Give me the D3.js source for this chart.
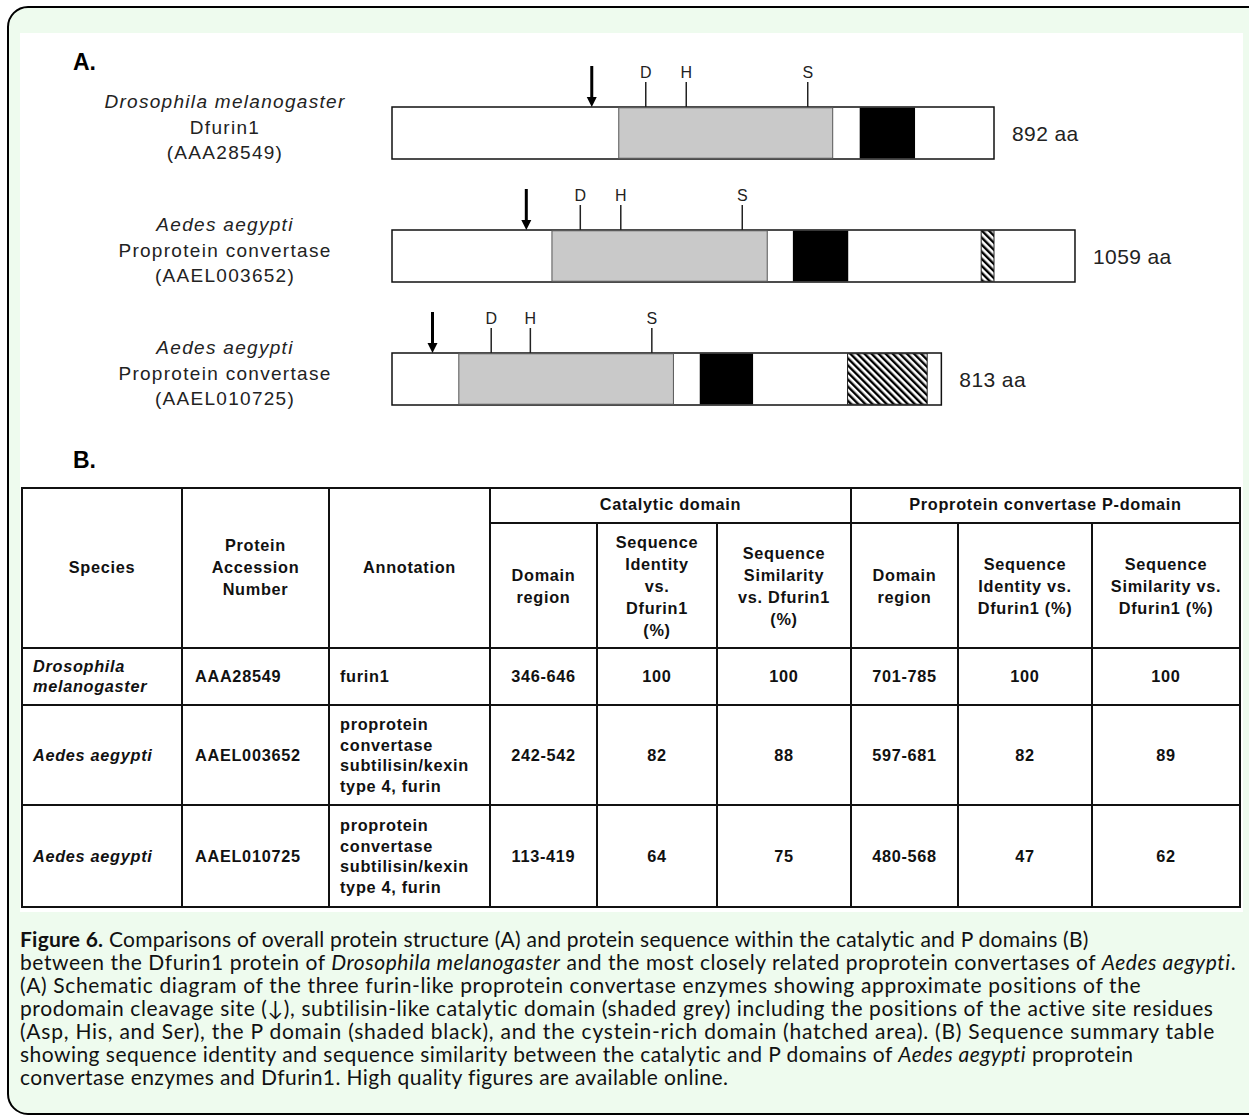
<!DOCTYPE html>
<html>
<head>
<meta charset="utf-8">
<script src="https://cdn.jsdelivr.net/npm/d3@7"></script>
<style>
  html, body { margin: 0; padding: 0; background: #ffffff; }
  svg { display: block; }
</style>
</head>
<body>
<div id="chart"></div>
<script>
// ---------- Panel A data (positions in amino acids) ----------
const rowKeys        = ["dm", "aa1", "aa2"];
const speciesNames   = ["Drosophila melanogaster", "Aedes aegypti", "Aedes aegypti"];
const proteinNames   = ["Dfurin1", "Proprotein convertase", "Proprotein convertase"];
const accessionLabels= ["(AAA28549)", "(AAEL003652)", "(AAEL010725)"];
const lengthLabels   = ["892 aa", "1059 aa", "813 aa"];
const drawnLengths   = [892, 1012, 814];
const catalyticStart = [336, 237, 99];
const catalyticEnd   = [653, 556, 417];
const pDomainStart   = [693, 594, 456];
const pDomainEnd     = [775, 676, 535];
const cysRichStart   = [null, 873, 675];
const cysRichEnd     = [null, 892, 793];
const cleavageSite   = [296, 199, 60];
const siteD          = [376, 279, 147];
const siteH          = [436, 339, 205];
const siteS          = [616, 519, 385];

// ---------- Panel B table data ----------
const tableSpecies    = [["Drosophila", "melanogaster"], ["Aedes aegypti"], ["Aedes aegypti"]];
const tableAccession  = ["AAA28549", "AAEL003652", "AAEL010725"];
const tableAnnotation = [["furin1"], ["proprotein", "convertase", "subtilisin/kexin", "type 4, furin"], ["proprotein", "convertase", "subtilisin/kexin", "type 4, furin"]];
const catRegion       = ["346-646", "242-542", "113-419"];
const catIdentity     = ["100", "82", "64"];
const catSimilarity   = ["100", "88", "75"];
const pRegion         = ["701-785", "597-681", "480-568"];
const pIdentity       = ["100", "82", "47"];
const pSimilarity     = ["100", "89", "62"];
const headerMain      = [["Species"], ["Protein", "Accession", "Number"], ["Annotation"]];
const groupHeaders    = ["Catalytic domain", "Proprotein convertase P-domain"];
const subHeaders      = [["Domain", "region"], ["Sequence", "Identity", "vs.", "Dfurin1", "(%)"], ["Sequence", "Similarity", "vs. Dfurin1", "(%)"],
                         ["Domain", "region"], ["Sequence", "Identity vs.", "Dfurin1 (%)"], ["Sequence", "Similarity vs.", "Dfurin1 (%)"]];

// ---------- Caption ----------
const captionLines = [
  [["Figure 6.", "b"], [" Comparisons of overall protein structure (A) and protein sequence within the catalytic and P domains (B)", ""]],
  [["between the Dfurin1 protein of ", ""], ["Drosophila melanogaster", "i"], [" and the most closely related proprotein convertases of ", ""], ["Aedes aegypti", "i"], [".", ""]],
  [["(A) Schematic diagram of the three furin-like proprotein convertase enzymes showing approximate positions of the", ""]],
  [["prodomain cleavage site (\u2193), subtilisin-like catalytic domain (shaded grey) including the positions of the active site residues", ""]],
  [["(Asp, His, and Ser), the P domain (shaded black), and the cystein-rich domain (hatched area). (B) Sequence summary table", ""]],
  [["showing sequence identity and sequence similarity between the catalytic and P domains of ", ""], ["Aedes aegypti", "i"], [" proprotein", ""]],
  [["convertase enzymes and Dfurin1. High quality figures are available online.", ""]]
];
const captionLineEnds = [1089, 1236, 1142, 1215, 1215, 1134, 728];

const W = 1249, H = 1116;
const svg = d3.select("#chart").append("svg").attr("width", W).attr("height", H);

// Frame
svg.append("rect").attr("x", 8).attr("y", 7).attr("width", 1270).attr("height", 1107)
  .attr("rx", 20).attr("ry", 20).attr("fill", "#eefbee").attr("stroke", "#000").attr("stroke-width", 2);
svg.append("rect").attr("x", 20).attr("y", 33).attr("width", 1223).attr("height", 879).attr("fill", "#ffffff");

const defs = svg.append("defs");
const pat = defs.append("pattern").attr("id", "hatch").attr("patternUnits", "userSpaceOnUse")
  .attr("width", 5).attr("height", 5).attr("patternTransform", "rotate(-45)");
pat.append("rect").attr("width", 5).attr("height", 5).attr("fill", "#fff");
pat.append("rect").attr("x", 0).attr("y", 0).attr("width", 2.4).attr("height", 5).attr("fill", "#000");

const sansFont = "'Liberation Sans', Arial, sans-serif";

// Panel letters
svg.append("text").attr("x", 73).attr("y", 70).text("A.")
  .attr("font-family", sansFont).attr("font-weight", "bold").attr("font-size", 23).attr("fill", "#000");
svg.append("text").attr("x", 73).attr("y", 468).text("B.")
  .attr("font-family", sansFont).attr("font-weight", "bold").attr("font-size", 23).attr("fill", "#000");

// ---------- Panel A ----------
const x = d3.scaleLinear().domain([0, 892]).range([392, 994]);
const y = d3.scalePoint().domain(rowKeys).range([107, 353]);
const barH = 52;

const rows = svg.append("g").selectAll("g").data(rowKeys).join("g");

rows.each(function(k, i) {
  const g = d3.select(this);
  const top = y(k);
  const lbl = g.append("text").attr("text-anchor", "middle").attr("font-family", sansFont)
    .attr("font-size", 19).attr("letter-spacing", 1.3).attr("fill", "#222");
  [speciesNames[i], proteinNames[i], accessionLabels[i]].forEach((t, j) => {
    lbl.append("tspan").attr("x", 225).attr("y", top + 1 + j * 25.5)
      .attr("font-style", j === 0 ? "italic" : "normal").text(t);
  });
  g.append("rect").attr("x", x(0)).attr("y", top).attr("width", x(drawnLengths[i]) - x(0)).attr("height", barH)
    .attr("fill", "#fff").attr("stroke", "#111").attr("stroke-width", 1.5);
  g.append("rect").attr("x", x(catalyticStart[i])).attr("y", top + 0.75)
    .attr("width", x(catalyticEnd[i]) - x(catalyticStart[i])).attr("height", barH - 1.5)
    .attr("fill", "#c9c9c9").attr("stroke", "#555").attr("stroke-width", 1);
  g.append("rect").attr("x", x(pDomainStart[i])).attr("y", top + 0.75)
    .attr("width", x(pDomainEnd[i]) - x(pDomainStart[i])).attr("height", barH - 1.5)
    .attr("fill", "#000");
  if (cysRichStart[i] !== null) {
    g.append("rect").attr("x", x(cysRichStart[i])).attr("y", top + 0.75)
      .attr("width", x(cysRichEnd[i]) - x(cysRichStart[i])).attr("height", barH - 1.5)
      .attr("fill", "url(#hatch)").attr("stroke", "#222").attr("stroke-width", 1);
  }
  [["D", siteD[i]], ["H", siteH[i]], ["S", siteS[i]]].forEach(([lab, pos]) => {
    g.append("line").attr("x1", x(pos)).attr("x2", x(pos)).attr("y1", top - 25).attr("y2", top)
      .attr("stroke", "#222").attr("stroke-width", 1.5);
    g.append("text").attr("x", x(pos)).attr("y", top - 29).attr("text-anchor", "middle")
      .attr("font-family", sansFont).attr("font-size", 16).attr("fill", "#222").text(lab);
  });
  const ax = x(cleavageSite[i]);
  g.append("line").attr("x1", ax).attr("x2", ax).attr("y1", top - 41).attr("y2", top - 8)
    .attr("stroke", "#000").attr("stroke-width", 3);
  g.append("path").attr("d", `M${ax - 5},${top - 10} L${ax + 5},${top - 10} L${ax},${top} Z`).attr("fill", "#000");
  g.append("text").attr("x", x(drawnLengths[i]) + 18).attr("y", top + 34)
    .attr("font-family", sansFont).attr("font-size", 21).attr("letter-spacing", 0.4).attr("fill", "#222")
    .text(lengthLabels[i]);
});

// ---------- Panel B table ----------
const colEdges = [22, 182, 329, 490, 597, 717, 851, 958, 1092, 1240];
const rowEdges = [488, 523, 648, 705, 805, 907];
const tbl = svg.append("g");
const tfont = { family: sansFont, size: 16.3, ls: 0.7 };

function cellText(lines, cx, cy, anchor, italic, lh) {
  lh = lh || 21.5;
  const t = tbl.append("text").attr("font-family", tfont.family).attr("font-size", tfont.size)
    .attr("font-weight", "bold").attr("letter-spacing", tfont.ls).attr("fill", "#111")
    .attr("text-anchor", anchor).attr("font-style", italic ? "italic" : "normal");
  const n = lines.length;
  lines.forEach((s, j) => {
    t.append("tspan").attr("x", cx).attr("y", cy + (j - (n - 1) / 2) * lh + 5.8).text(s);
  });
}

tbl.append("rect").attr("x", colEdges[0]).attr("y", rowEdges[0])
  .attr("width", colEdges[9] - colEdges[0]).attr("height", rowEdges[5] - rowEdges[0])
  .attr("fill", "none").attr("stroke", "#111").attr("stroke-width", 2);
colEdges.slice(1, 9).forEach((cx, j) => {
  const c = j + 1;
  const y0 = (c === 4 || c === 5 || c === 7 || c === 8) ? rowEdges[1] : rowEdges[0];
  tbl.append("line").attr("x1", cx).attr("x2", cx).attr("y1", y0).attr("y2", rowEdges[5])
    .attr("stroke", "#111").attr("stroke-width", 2);
});
tbl.append("line").attr("x1", colEdges[3]).attr("x2", colEdges[9]).attr("y1", rowEdges[1]).attr("y2", rowEdges[1])
  .attr("stroke", "#111").attr("stroke-width", 2);
rowEdges.slice(2, 5).forEach(ry => {
  tbl.append("line").attr("x1", colEdges[0]).attr("x2", colEdges[9]).attr("y1", ry).attr("y2", ry)
    .attr("stroke", "#111").attr("stroke-width", 2);
});

const mid = (a, b) => (a + b) / 2;
headerMain.forEach((lines, c) => cellText(lines, mid(colEdges[c], colEdges[c + 1]), mid(rowEdges[0], rowEdges[2]) - 1, "middle", false, 22));
cellText([groupHeaders[0]], mid(colEdges[3], colEdges[6]), mid(rowEdges[0], rowEdges[1]) - 1, "middle", false);
cellText([groupHeaders[1]], mid(colEdges[6], colEdges[9]), mid(rowEdges[0], rowEdges[1]) - 1, "middle", false);
subHeaders.forEach((lines, j) => {
  const c = j + 3;
  cellText(lines, mid(colEdges[c], colEdges[c + 1]), mid(rowEdges[1], rowEdges[2]) + 1, "middle", false, 22);
});
const dataCols = [catRegion, catIdentity, catSimilarity, pRegion, pIdentity, pSimilarity];
for (let r = 0; r < 3; r++) {
  const cy = mid(rowEdges[r + 2], rowEdges[r + 3]);
  cellText(tableSpecies[r], colEdges[0] + 11, cy, "start", true, 20);
  cellText([tableAccession[r]], colEdges[1] + 13, cy, "start", false);
  cellText(tableAnnotation[r], colEdges[2] + 11, cy, "start", false, 20.5);
  dataCols.forEach((arr, j) => {
    const c = j + 3;
    cellText([arr[r]], mid(colEdges[c], colEdges[c + 1]), cy, "middle", false);
  });
}

// ---------- Caption ----------
const capFont = "Lato, 'Open Sans', sans-serif";
captionLines.forEach((segs, i) => {
  const t = svg.append("text").attr("x", 20).attr("y", 947 + i * 23)
    .attr("font-family", capFont).attr("font-size", 21).attr("fill", "#111");
  segs.forEach(([s, st]) => {
    const ts = t.append("tspan").text(s);
    if (st === "b") ts.attr("font-weight", "bold");
    if (st === "i") ts.attr("font-style", "italic");
  });
  const w = t.node().getComputedTextLength();
  const nChars = segs.map(s => s[0]).join("").length;
  const target = captionLineEnds[i] - 20;
  t.attr("letter-spacing", Math.max(-0.4, Math.min(1.2, (target - w) / nChars)));
});
</script>
</body>
</html>
